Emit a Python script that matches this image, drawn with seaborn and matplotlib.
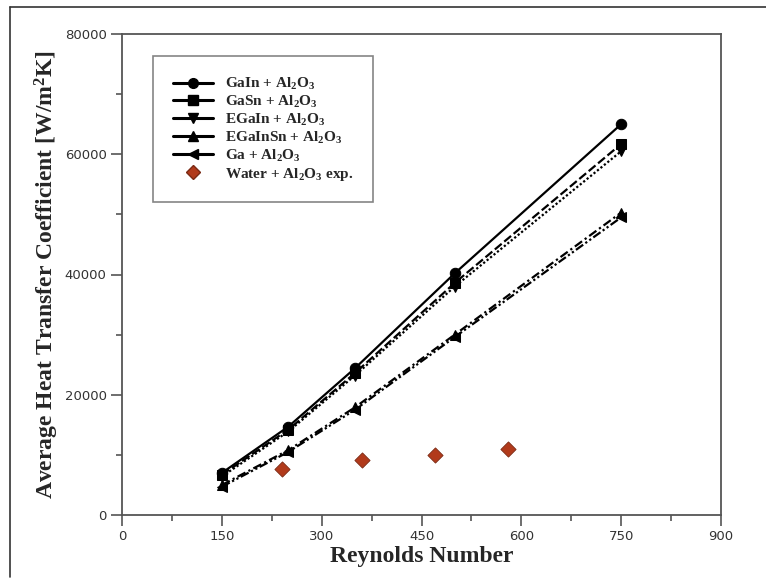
import numpy as np
import pandas as pd
import matplotlib
matplotlib.use("Agg")
import matplotlib.pyplot as plt
from matplotlib.lines import Line2D
from matplotlib.ticker import MultipleLocator
import seaborn as sns

# Reynolds numbers of the simulations and the experiment
reynolds = [150, 250, 350, 500, 750]
reynolds_exp = [240, 360, 470, 580]

# Average heat transfer coefficient [W/m^2K]
h_gain = [7000, 14700, 24400, 40200, 65000]
h_gasn = [6700, 14200, 23600, 38600, 61700]
h_egain = [6400, 13900, 23200, 38000, 60500]
h_egainsn = [5000, 10800, 17900, 30000, 50300]
h_ga = [4700, 10500, 17500, 29600, 49500]
h_water_exp = [7700, 9200, 10000, 10950]

labels = [
    r"GaIn + Al$_2$O$_3$",
    r"GaSn + Al$_2$O$_3$",
    r"EGaIn + Al$_2$O$_3$",
    r"EGaInSn + Al$_2$O$_3$",
    r"Ga + Al$_2$O$_3$",
]
exp_label = r"Water + Al$_2$O$_3$ exp."

series = [h_gain, h_gasn, h_egain, h_egainsn, h_ga]
markers = ["o", "s", "v", "^", "<"]
dashes = ["", (4, 1.5), (1, 1), (4, 1.5, 1, 1.5), (4, 1.2, 1, 1.2, 1, 1.2)]

df = pd.DataFrame({
    "Re": np.tile(reynolds, len(series)),
    "h": np.concatenate(series),
    "fluid": np.repeat(labels, len(reynolds)),
})
df_exp = pd.DataFrame({"Re": reynolds_exp, "h": h_water_exp})

sns.set_style("ticks")
plt.rcParams["font.family"] = ["DejaVu Sans"]
plt.rcParams["mathtext.fontset"] = "custom"
plt.rcParams["mathtext.rm"] = "Liberation Serif:bold"
plt.rcParams["mathtext.it"] = "Liberation Serif:bold"
plt.rcParams["mathtext.bf"] = "Liberation Serif:bold"

fig = plt.figure(figsize=(7.66, 5.82), dpi=100)
ax = fig.add_axes([122 / 766, 1 - 515 / 582, (721 - 122) / 766, (515 - 34) / 582])

sns.lineplot(
    data=df, x="Re", y="h", style="fluid", style_order=labels,
    markers=dict(zip(labels, markers)), dashes=dict(zip(labels, dashes)),
    color="black", linewidth=1.6, markersize=7.5, markeredgecolor="black",
    legend=False, ax=ax,
)
sns.scatterplot(
    data=df_exp, x="Re", y="h", marker="D", s=60, color="#B13A1B",
    edgecolor="#7a2a14", linewidth=0.6, legend=False, ax=ax, zorder=5,
)

ax.set_xlim(0, 900)
ax.set_ylim(0, 80000)
ax.xaxis.set_major_locator(MultipleLocator(150))
ax.xaxis.set_minor_locator(MultipleLocator(75))
ax.yaxis.set_major_locator(MultipleLocator(20000))
ax.yaxis.set_minor_locator(MultipleLocator(10000))
ax.tick_params(which="major", length=8, width=1.2, color="#555555",
               labelsize=9.5, labelcolor="#333333", pad=3)
ax.tick_params(which="minor", length=4, width=1.2, color="#555555")
for s in ax.spines.values():
    s.set_color("#555555")
    s.set_linewidth(1.3)

label_font = dict(family="Liberation Serif", weight="bold", size=17)
ax.set_xlabel("Reynolds Number", fontdict=label_font, labelpad=2)
ax.set_ylabel(r"Average Heat Transfer Coefficient [W/m$^2$K]",
              fontdict=label_font, labelpad=3)

handles = [
    Line2D([], [], color="black", marker=m, linewidth=2.2, markersize=7)
    for m in markers
]
handles.append(Line2D([], [], linestyle="none", marker="D", markersize=7.5,
                      color="#B13A1B", markeredgecolor="#7a2a14"))
leg = ax.legend(
    handles, labels + [exp_label], loc="upper left",
    bbox_to_anchor=((153 - 122) / 599, (515 - 56) / 481),
    prop=dict(family="Liberation Serif", weight="bold", size=11),
    frameon=True, fancybox=False, handlelength=2.6, handletextpad=0.8,
    labelspacing=0.12, borderpad=1.3, borderaxespad=0, edgecolor="#666666",
)
leg.get_frame().set_linewidth(1.2)

# Thin frame around the whole figure
fig.add_artist(Line2D([10 / 766, 10 / 766], [1 - 7 / 582, 1 - 577 / 582],
                      transform=fig.transFigure, color="#333333", linewidth=1.2))
fig.add_artist(Line2D([10 / 766, 1.0], [1 - 7 / 582, 1 - 7 / 582],
                      transform=fig.transFigure, color="#333333", linewidth=1.2))

fig.savefig("out.png", dpi=100)
